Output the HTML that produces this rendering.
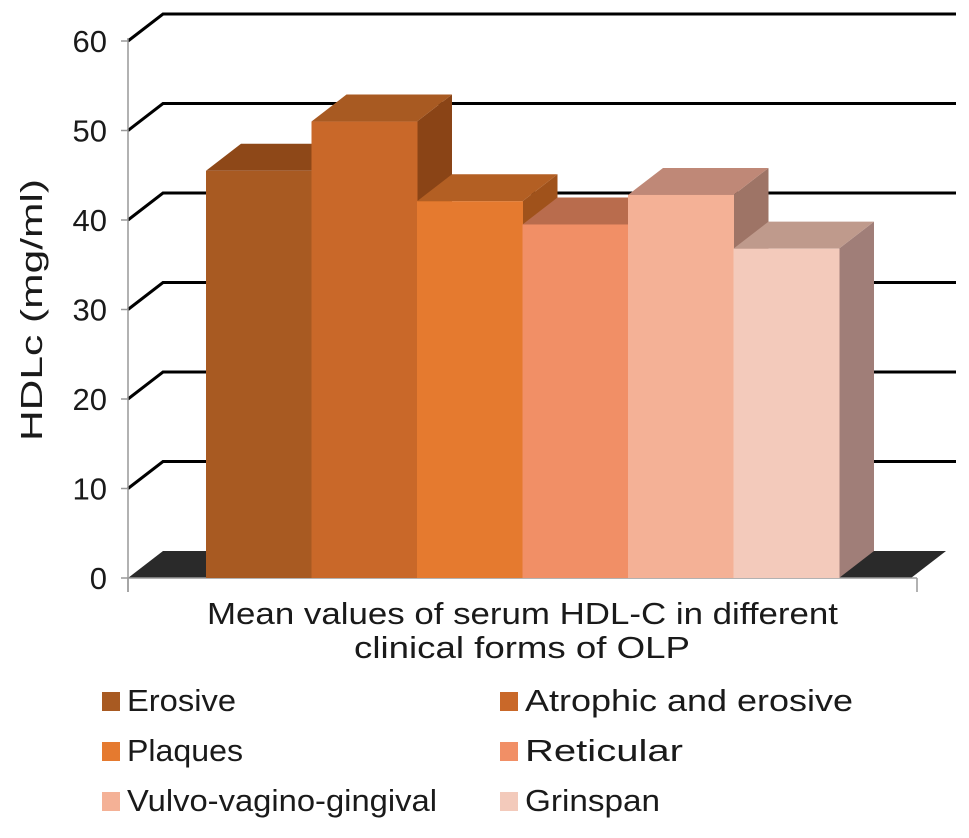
<!DOCTYPE html>
<html><head><meta charset="utf-8"><style>
body{margin:0;background:#fff;}
svg text{font-family:"Liberation Sans",Arial,sans-serif;fill:#1a1a1a;}
</style></head><body>
<svg id="chart" width="969" height="833" viewBox="0 0 969 833" xmlns="http://www.w3.org/2000/svg">
<g id="grid"></g>
<polygon points="128,578 163,551 946,551 911,578" fill="#2a2a2a"/>
<line x1="128" y1="38" x2="128" y2="592" stroke="#999" stroke-width="1.5"/>
<line x1="128" y1="578" x2="917" y2="578" stroke="#999" stroke-width="1.5"/>
<line x1="128" y1="578" x2="128" y2="592" stroke="#999" stroke-width="1.5"/>
<line x1="917" y1="578" x2="917" y2="592" stroke="#999" stroke-width="1.5"/>
<g id="yaxis"></g>
<g id="bars"></g>
<text transform="translate(42,310) rotate(-90)" text-anchor="middle" font-size="31" textLength="262" lengthAdjust="spacingAndGlyphs">HDLc (mg/ml)</text>
<text x="207" y="624" font-size="31" textLength="631" lengthAdjust="spacingAndGlyphs">Mean values of serum HDL-C in different</text>
<text x="354" y="658" font-size="31" textLength="336" lengthAdjust="spacingAndGlyphs">clinical forms of OLP</text>
<g id="legend"></g>
</svg>
<script>
const categories = ["Erosive","Atrophic and erosive","Plaques","Reticular","Vulvo-vagino-gingival","Grinspan"];
const values = [45.5, 51, 42.1, 39.5, 42.8, 36.8];
const yTicks = [0,10,20,30,40,50,60];
const legendWidths = [109,328,116,158,310,135];
const fronts = ["#A85A22","#C96829","#E57A2F","#F18F66","#F4B196","#F3CABB"];
const tops   = ["#8E4818","#A85A22","#B35F23","#B96C4D","#BF8877","#BF9A8C"];
const sides  = ["#8A4416","#8A4416","#A0521B","#A06450","#9E7466","#A07E78"];
const NS="http://www.w3.org/2000/svg";
const y0=578, pxPer=8.95, dx=35, dy=-27, x0=206, bw=105.5;
function yScale(v){return y0 - v*pxPer;}
function xScale(i){return x0 + i*bw;}
function mk(tag,attrs,parent){const e=document.createElementNS(NS,tag);for(const k in attrs)e.setAttribute(k,attrs[k]);parent.appendChild(e);return e;}
const grid=document.getElementById('grid'), yaxis=document.getElementById('yaxis'), bars=document.getElementById('bars'), legend=document.getElementById('legend');
yTicks.forEach(t=>{
  const y=yScale(t);
  if(t>0){
    const p=mk('polyline',{points:`128,${y} ${128+dx},${y+dy} 956,${y+dy}`,fill:'none',stroke:'#000','stroke-width':3},grid);
    
    
  }
  const tk=mk('line',{x1:121,y1:y,x2:128,y2:y,stroke:'#999','stroke-width':1.5},yaxis);
  
  
  const tx=mk('text',{x:107,y:y+11,'text-anchor':'end','font-size':31},yaxis);
  tx.textContent=t;
  
  
});
values.forEach((v,i)=>{
  const x=xScale(i), yt=yScale(v), x2=x+bw;
  const g=mk('g',{},bars);
  
  
  mk('polygon',{points:`${x2},${yt} ${x2+dx},${yt+dy} ${x2+dx},${y0+dy} ${x2},${y0}`,fill:sides[i]},g);
  mk('polygon',{points:`${x},${yt} ${x+dx},${yt+dy} ${x2+dx},${yt+dy} ${x2},${yt}`,fill:tops[i]},g);
  mk('rect',{x:x,y:yt,width:bw+0.5,height:y0-yt,fill:fronts[i]},g);
});
categories.forEach((c,i)=>{
  const col=i%2, row=Math.floor(i/2);
  const lx=col?500:102, ly=711+row*50;
  const g=mk('g',{},legend);
  
  
  mk('rect',{x:lx,y:ly-19,width:18,height:19,fill:fronts[i]},g);
  const t=mk('text',{x:lx+25,y:ly,'font-size':31,textLength:legendWidths[i],lengthAdjust:'spacingAndGlyphs'},g);
  t.textContent=c;
});
</script>
</body></html>
